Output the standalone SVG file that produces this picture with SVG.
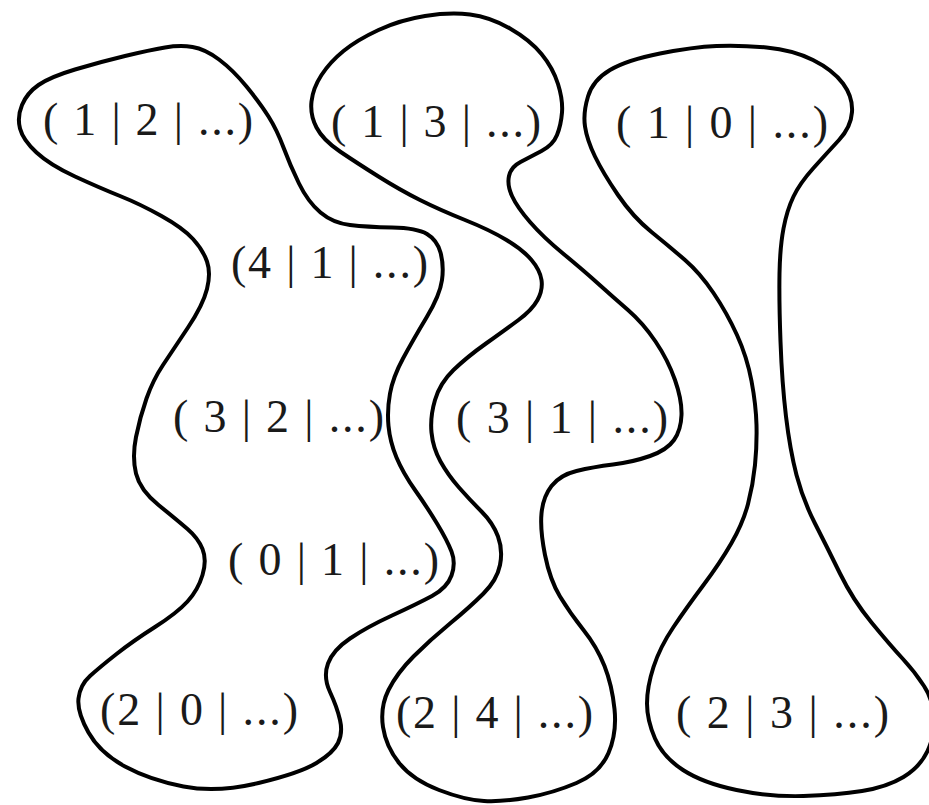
<svg xmlns="http://www.w3.org/2000/svg" width="929" height="805" viewBox="0 0 929 805">
<style>
.blob{fill:none;stroke:#000;stroke-width:4;stroke-linejoin:round}
.lbl{font-family:"Liberation Serif","Times New Roman",serif;font-size:46px;fill:#1a1a1a}
</style>
<rect width="929" height="805" fill="#fff"/>
<g id="regions">
<path id="region-left" class="blob" d="M125,56 Q150,50 165,47.5 Q180,45 192.5,47 Q205,49 219,59.5 Q233,70 246.5,86.5 Q260,103 268.5,116.5 Q277,130 283.5,147.5 Q290,165 299,183.5 Q308,202 320.5,212.5 Q333,223 350,225 Q367,227 392,227.5 Q417,228 427,234 Q437,240 440.5,252.5 Q444,265 442,280 Q440,295 426.5,317.5 Q413,340 403,358.5 Q393,377 390,393.5 Q387,410 388.5,426 Q390,442 396.5,457.5 Q403,473 415,490 Q427,507 437,523.5 Q447,540 451.5,551.5 Q456,563 451.5,575.5 Q447,588 432,596 Q417,604 392,615.5 Q367,627 350,638.5 Q333,650 328,663.5 Q323,677 330,692 Q337,707 340,720 Q343,733 338,743 Q333,753 316.5,763 Q300,773 258.5,783 Q217,793 183.5,786.5 Q150,780 125,766.5 Q100,753 88.5,732.5 Q77,712 78.5,698.5 Q80,685 90,676 Q100,667 116.5,654 Q133,641 155,627 Q177,613 187.5,601.5 Q198,590 202.5,575 Q207,560 202.5,549 Q198,538 187.5,529 Q177,520 158.5,505 Q140,490 136,473.5 Q132,457 136,437 Q140,417 146.5,398.5 Q153,380 163,365 Q173,350 188,327.5 Q203,305 207,289 Q211,273 207,261.5 Q203,250 193,239 Q183,228 161.5,216 Q140,204 120,196 Q100,188 75,176.5 Q50,165 36.5,152.5 Q23,140 20,128.5 Q17,117 22,105 Q27,93 38.5,85 Q50,77 75,69.5 Q100,62 125,56 Z"/>
<path id="region-middle" class="blob" d="M425,16 Q450,12 470,14.5 Q490,17 510,28.5 Q530,40 541.5,54 Q553,68 558,84 Q563,100 562,112.5 Q561,125 557,135 Q553,145 541.5,151 Q530,157 520.5,162 Q511,167 509,176 Q507,185 512,196 Q517,207 530,222 Q543,237 563,253.5 Q583,270 598,283.5 Q613,297 628,310 Q643,323 655.5,341.5 Q668,360 675,380 Q682,400 681.5,415 Q681,430 674,440 Q667,450 650,456 Q633,462 613,464.5 Q593,467 576.5,471 Q560,475 551.5,486 Q543,497 541.5,513.5 Q540,530 545,555 Q550,580 560,596.5 Q570,613 583.5,630 Q597,647 604.5,666 Q612,685 614.5,709 Q617,733 608.5,753 Q600,773 576.5,783 Q553,793 528,797.5 Q503,802 484,801 Q465,800 439,790 Q413,780 399.5,763.5 Q386,747 383,727 Q380,707 388.5,690 Q397,673 413.5,656.5 Q430,640 450,623.5 Q470,607 483.5,593.5 Q497,580 500,565 Q503,550 498,536.5 Q493,523 481.5,511.5 Q470,500 459,487.5 Q448,475 440.5,461.5 Q433,448 431.5,432.5 Q430,417 435,400 Q440,383 453.5,370 Q467,357 486,343.5 Q505,330 518.5,320 Q532,310 537.5,300 Q543,290 541.5,280 Q540,270 531.5,260 Q523,250 506.5,240 Q490,230 465,220 Q440,210 420,200 Q400,190 378.5,176.5 Q357,163 340,151.5 Q323,140 316.5,127.5 Q310,115 311.5,101.5 Q313,88 321.5,75 Q330,62 343.5,51 Q357,40 378.5,30 Q400,20 425,16 Z"/>
<path id="region-right" class="blob" d="M716.5,46 Q740,45 766.5,47.5 Q793,50 813,60 Q833,70 843,83.5 Q853,97 852,112 Q851,127 839,140 Q827,153 813.5,168 Q800,183 793.5,196.5 Q787,210 783.5,228.5 Q780,247 779.5,273.5 Q779,300 780.5,341.5 Q782,383 786,416.5 Q790,450 796.5,475 Q803,500 815,523.5 Q827,547 840,573.5 Q853,600 871.5,622.5 Q890,645 902.5,658.5 Q915,672 924,686 Q933,700 934,717.5 Q935,735 927.5,751 Q920,767 903.5,777 Q887,787 862,791 Q837,795 803.5,796 Q770,797 736.5,790 Q703,783 683,770 Q663,757 655,738.5 Q647,720 647,703.5 Q647,687 653.5,667 Q660,647 673.5,627 Q687,607 703.5,585 Q720,563 731.5,543 Q743,523 748,504 Q753,485 755,465 Q757,445 756.5,425 Q756,405 751.5,381 Q747,357 737,335 Q727,313 713.5,293 Q700,273 685,260 Q670,247 651.5,232 Q633,217 618,195 Q603,173 595,156.5 Q587,140 585,126.5 Q583,113 588,96.5 Q593,80 610,70 Q627,60 660,53.5 Q693,47 716.5,46 Z"/>
</g>
<g id="connectors"></g>
<g id="n-1-2"><text class="lbl" x="43" y="135" textLength="210" lengthAdjust="spacing">( 1 | 2 | ...)</text></g>
<g id="n-1-3"><text class="lbl" x="331" y="137" textLength="210" lengthAdjust="spacing">( 1 | 3 | ...)</text></g>
<g id="n-1-0"><text class="lbl" x="616" y="138" textLength="212" lengthAdjust="spacing">( 1 | 0 | ...)</text></g>
<g id="n-4-1"><text class="lbl" x="231" y="278" textLength="197" lengthAdjust="spacing">(4 | 1 | ...)</text></g>
<g id="n-3-2"><text class="lbl" x="173" y="432" textLength="211" lengthAdjust="spacing">( 3 | 2 | ...)</text></g>
<g id="n-3-1"><text class="lbl" x="456" y="433" textLength="212" lengthAdjust="spacing">( 3 | 1 | ...)</text></g>
<g id="n-0-1"><text class="lbl" x="228" y="575" textLength="211" lengthAdjust="spacing">( 0 | 1 | ...)</text></g>
<g id="n-2-0"><text class="lbl" x="100" y="725" textLength="198" lengthAdjust="spacing">(2 | 0 | ...)</text></g>
<g id="n-2-4"><text class="lbl" x="396" y="728" textLength="197" lengthAdjust="spacing">(2 | 4 | ...)</text></g>
<g id="n-2-3"><text class="lbl" x="676" y="728" textLength="213" lengthAdjust="spacing">( 2 | 3 | ...)</text></g>
</svg>
